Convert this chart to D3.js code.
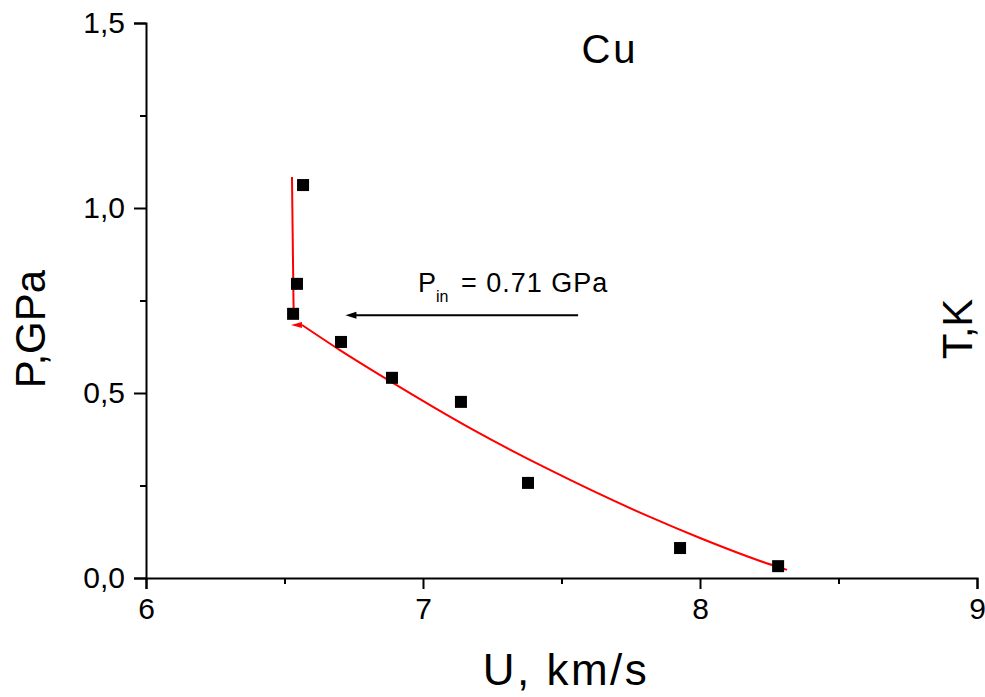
<!DOCTYPE html>
<html>
<head>
<meta charset="utf-8">
<script src="https://cdn.jsdelivr.net/npm/d3@7"></script>
<style>
  body { margin: 0; background: #fff; }
  svg { display: block; font-family: "Liberation Sans", Arial, sans-serif; }
</style>
</head>
<body>
<div id="chart"><svg></svg></div>
<script>
const width = 985;
const height = 697;

// measured points
const uData = [6.567, 6.545, 6.531, 6.704, 6.888, 7.137, 7.379, 7.928, 8.282];
const pData = [1.062, 0.795, 0.714, 0.638, 0.541, 0.476, 0.257, 0.081, 0.032];

// red fit curve (lower branch) and vertical branch
const fitU = [6.563, 6.700, 6.881, 7.170, 7.458, 7.819, 8.000, 8.217, 8.314];
const fitP = [0.684, 0.616, 0.532, 0.405, 0.292, 0.165, 0.108, 0.046, 0.022];
const vertU = [6.527, 6.533];
const vertP = [1.084, 0.716];

const xTicks = [6, 7, 8, 9];
const xMinor = [6.5, 7.5, 8.5];
const yTicks = [0, 0.5, 1.0, 1.5];
const yMinor = [0.25, 0.75, 1.25];

const margin = {left: 146, right: 8, top: 23, bottom: 119};

const svg = d3.select('#chart > svg')
  .attr('width', width)
  .attr('height', height);

const x = d3.scaleLinear().domain([6, 9]).range([margin.left, width - margin.right]);
const y = d3.scaleLinear().domain([0, 1.5]).range([height - margin.bottom, margin.top]);

const fmt = d => d3.format('.1f')(d).replace('.', ',');

// x axis
svg.append('g')
  .attr('transform', `translate(0,${y(0)})`)
  .call(d3.axisBottom(x).tickValues(xTicks).tickFormat(d3.format('d')).tickSize(11).tickPadding(9));
svg.append('g')
  .attr('transform', `translate(0,${y(0)})`)
  .call(d3.axisBottom(x).tickValues(xMinor).tickFormat('').tickSize(6))
  .select('.domain').remove();

// y axis
svg.append('g')
  .attr('transform', `translate(${x(6)},0)`)
  .call(d3.axisLeft(y).tickValues(yTicks).tickFormat(fmt).tickSize(12).tickPadding(9));
svg.append('g')
  .attr('transform', `translate(${x(6)},0)`)
  .call(d3.axisLeft(y).tickValues(yMinor).tickFormat('').tickSize(6))
  .select('.domain').remove();

svg.selectAll('.domain').attr('stroke', '#000').attr('stroke-width', 2);
svg.selectAll('.tick line').attr('stroke', '#000').attr('stroke-width', 2);
svg.selectAll('.tick text')
  .attr('font-size', 30)
  .attr('font-family', '"Liberation Sans", Arial, sans-serif')
  .attr('fill', '#000');

// fit lines
const line = d3.line().x(d => x(d[0])).y(d => y(d[1])).curve(d3.curveMonotoneX);
svg.append('path')
  .datum(fitU.map((u, i) => [u, fitP[i]]))
  .attr('d', line)
  .attr('fill', 'none')
  .attr('stroke', '#ff0000')
  .attr('stroke-width', 2);
svg.append('path')
  .datum(vertU.map((u, i) => [u, vertP[i]]))
  .attr('d', d3.line().x(d => x(d[0])).y(d => y(d[1])))
  .attr('fill', 'none')
  .attr('stroke', '#ff0000')
  .attr('stroke-width', 2);

// small red arrowhead at start of the curve
const ax = x(fitU[0]), ay = y(fitP[0]);
svg.append('path')
  .attr('d', `M${ax - 11},${ay} L${ax},${ay - 3} L${ax},${ay + 3} Z`)
  .attr('fill', '#ff0000');

// data squares
svg.selectAll('rect.pt')
  .data(uData.map((u, i) => [u, pData[i]]))
  .join('rect')
  .attr('class', 'pt')
  .attr('x', d => x(d[0]) - 6)
  .attr('y', d => y(d[1]) - 6)
  .attr('width', 12)
  .attr('height', 12)
  .attr('fill', '#000');

// annotation arrow
const arrY = y(0.71);
svg.append('line')
  .attr('x1', x(7.56)).attr('x2', x(6.72) + 8)
  .attr('y1', arrY).attr('y2', arrY)
  .attr('stroke', '#000').attr('stroke-width', 2);
svg.append('path')
  .attr('d', `M${x(6.72)},${arrY} L${x(6.72) + 11},${arrY - 3.5} L${x(6.72) + 11},${arrY + 3.5} Z`)
  .attr('fill', '#000');

const ann = svg.append('text')
  .attr('x', 418).attr('y', 292)
  .attr('font-size', 27)
  .attr('fill', '#000');
ann.append('tspan').text('P');
ann.append('tspan').attr('dy', 10).attr('font-size', 16).text('in');
ann.append('tspan').attr('dy', -10).attr('dx', 4).attr('letter-spacing', 1).text(' = 0.71 GPa');

// titles
svg.append('text')
  .attr('x', 610).attr('y', 63)
  .attr('text-anchor', 'middle')
  .attr('font-size', 40)
  .attr('letter-spacing', 3)
  .text('Cu');

svg.append('text')
  .attr('x', 566).attr('y', 685)
  .attr('text-anchor', 'middle')
  .attr('font-size', 44)
  .attr('letter-spacing', 2.5)
  .text('U, km/s');

svg.append('text')
  .attr('transform', 'translate(45,329) rotate(-90)')
  .attr('text-anchor', 'middle')
  .attr('font-size', 42)
  .text('P,GPa');

svg.append('text')
  .attr('transform', 'translate(972,329) rotate(-90)')
  .attr('text-anchor', 'middle')
  .attr('font-size', 42)
  .text('T,K');
</script>
</body>
</html>
